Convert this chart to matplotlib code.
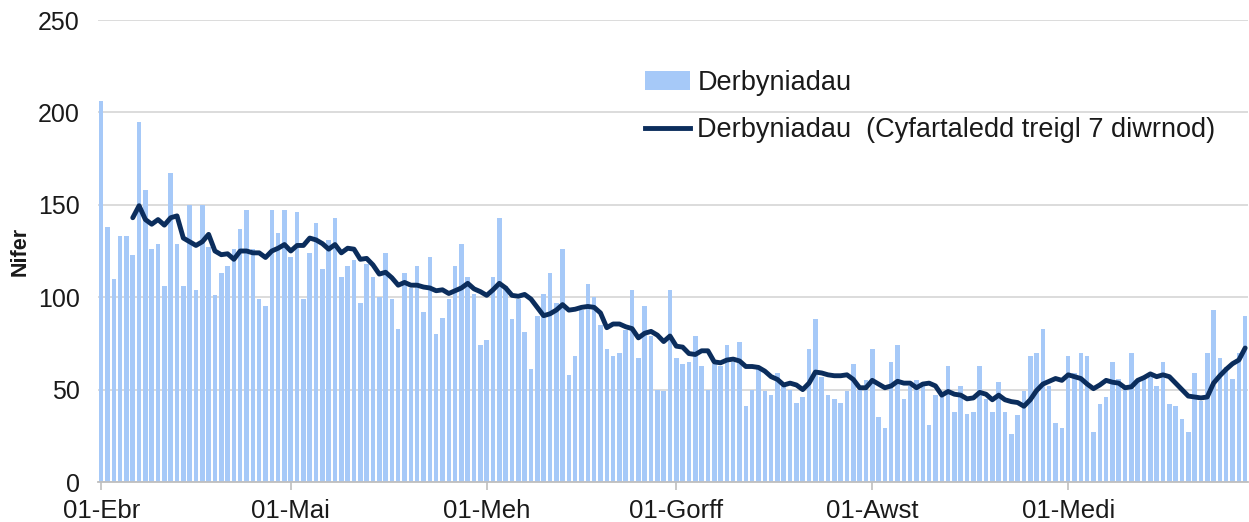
import matplotlib
matplotlib.use("Agg")
import matplotlib.pyplot as plt
import numpy as np
from matplotlib.patches import Patch
from matplotlib.lines import Line2D

# ---- data ----
admissions_apr = [206, 138, 110, 133, 133, 123, 195, 158, 126, 129, 106, 167, 129, 106, 150,
                  104, 150, 127, 101, 113, 117, 126, 137, 147, 126, 99, 95, 147, 135, 147]
admissions_may = [122, 146, 99, 124, 140, 115, 131, 143, 111, 117, 120, 97, 118, 111, 100, 124,
                  99, 83, 113, 105, 117, 92, 122, 80, 89, 99, 117, 129, 111, 102, 74]
admissions_jun = [77, 111, 143, 106, 88, 99, 81, 61, 90, 102, 113, 97, 126, 58, 68, 93, 107,
                  100, 85, 72, 68, 70, 82, 104, 67, 95, 79, 50, 49, 104]
admissions_jul = [67, 64, 65, 79, 63, 50, 64, 63, 74, 65, 76, 41, 50, 61, 49, 47, 59, 52, 50,
                  43, 46, 72, 88, 57, 47, 45, 43, 49, 64, 50, 55]
admissions_aug = [72, 35, 29, 65, 74, 45, 52, 55, 52, 31, 47, 46, 63, 38, 52, 37, 38, 63, 45,
                  38, 54, 38, 26, 36, 49, 68, 70, 83, 52, 32, 29]
admissions_sep = [68, 59, 70, 68, 27, 42, 46, 65, 56, 52, 70, 55, 56, 57, 52, 65, 42, 41, 34,
                  27, 59, 44, 70, 93, 67, 62, 56, 70, 90]

# 7-day rolling average as drawn (starts on day 6)
rolling_start_day = 6
rolling_avg = [143, 149.5, 142, 139.5, 142, 139, 143, 144, 132, 130, 128, 130, 134, 125, 123,
               123.5, 120.5, 125, 125, 124, 124, 121.5, 125, 126.5, 128.5, 125, 128, 128, 132,
               131, 129, 126, 128.5, 124, 126.5, 126, 120.5, 121, 117.5, 112.5, 113.5, 110.5,
               106.5, 108, 106.5, 106.5, 105.5, 105, 103.5, 104, 102, 103.5, 105, 107.5, 104.5,
               103, 101, 104, 107.5, 105, 101, 100.5, 101.5, 99, 94.5, 90, 91, 93, 96, 93, 93.5,
               94.5, 95, 94.5, 91.5, 83.5, 85.5, 85.5, 84, 83, 78, 80.5, 81.5, 79.5, 76, 79,
               73.5, 73, 69.5, 69, 71, 71, 65, 64.5, 66, 66.5, 65.5, 62.5, 62.5, 62, 60, 57,
               55.5, 52.5, 53.5, 52.5, 50, 53.5, 59.5, 59, 58, 57.5, 57.5, 58, 55.5, 51, 51, 55,
               53, 51, 52, 54.5, 53.5, 53.5, 51, 53, 53.5, 52, 47, 49, 47.5, 47, 45, 45.5, 48.5,
               47.5, 44.5, 47, 44.5, 43.5, 43, 41, 44.5, 49.5, 53, 54.5, 56, 55, 58, 57, 56, 53,
               50.5, 52.5, 55, 54, 53.5, 51, 51.5, 55, 56.5, 58.5, 57, 58, 57, 53.5, 50, 46.5,
               46, 45.5, 46, 53.5, 57.5, 61, 64, 66, 72.5]

month_labels = ["01-Ebr", "01-Mai", "01-Meh", "01-Gorff", "01-Awst", "01-Medi"]
month_start_days = [1, 31, 62, 92, 123, 154]
y_ticks = [0, 50, 100, 150, 200, 250]

label_bars = "Derbyniadau"
label_line = "Derbyniadau  (Cyfartaledd treigl 7 diwrnod)"

# ---- build ----
admissions = (admissions_apr + admissions_may + admissions_jun + admissions_jul
              + admissions_aug + admissions_sep)
days = np.arange(1, len(admissions) + 1)
line_days = np.arange(rolling_start_day, rolling_start_day + len(rolling_avg))

plt.rcParams['font.family'] = ['Liberation Sans', 'DejaVu Sans']

fig = plt.figure(figsize=(12.49, 5.22), dpi=100)
ax = fig.add_axes([98 / 1249, 40 / 522, 1150 / 1249, 462 / 522])

bar_color = "#A6C9F8"
line_color = "#0B2D5C"

ax.bar(days, admissions, width=0.72, color=bar_color, zorder=2)
ax.plot(line_days, rolling_avg, color=line_color, lw=3.5, zorder=3,
        solid_capstyle='round', solid_joinstyle='round')

ax.set_xlim(0.5, len(admissions) + 0.45)
ax.set_ylim(0, 250)
ax.set_yticks(y_ticks)
ax.set_yticklabels([str(v) for v in y_ticks])
ax.set_xticks(month_start_days)
ax.set_xticklabels(month_labels)

ax.grid(axis='y', color='#D9D9D9', lw=1.3, zorder=0)
ax.set_axisbelow(True)
for s in ['top', 'right', 'left']:
    ax.spines[s].set_visible(False)
ax.spines['bottom'].set_color('#BFBFBF')
ax.spines['bottom'].set_linewidth(1.3)
ax.spines['bottom'].set_zorder(4)

ax.tick_params(axis='y', length=0, pad=13, labelsize=18, labelcolor='#1a1a1a')
ax.tick_params(axis='x', length=6, width=1.2, color='#BFBFBF', direction='out',
               pad=6, labelsize=18.5, labelcolor='#1a1a1a')

ax.set_ylabel("Nifer", fontsize=15.5, fontweight='bold', color='#1a1a1a')
ax.yaxis.set_label_coords(-0.059, 0.5)

handles = [Patch(facecolor=bar_color, edgecolor='none'),
           Line2D([0], [0], color=line_color, lw=3.5)]
leg = fig.legend(handles, [label_bars, label_line], loc='upper left',
                 bbox_to_anchor=(645 / 1249, 1 - 70 / 522), frameon=False,
                 fontsize=19.5, handlelength=1.67, handletextpad=0.26,
                 labelspacing=0.78, borderaxespad=0, borderpad=0)
for t in leg.get_texts():
    t.set_color('#1a1a1a')

fig.savefig("out.png", dpi=100)
